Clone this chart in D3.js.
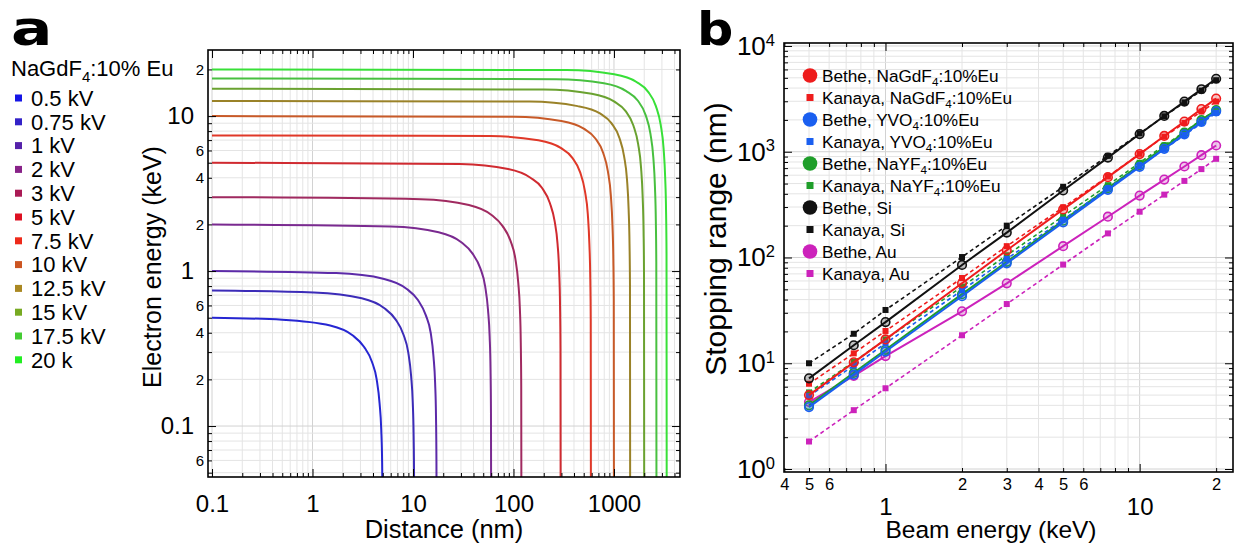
<!DOCTYPE html>
<html><head><meta charset="utf-8">
<script src="https://cdn.jsdelivr.net/npm/d3@7"></script>
<style>body{margin:0;background:#fff} svg{display:block}</style>
</head><body>
<svg id="c" width="1238" height="544"></svg>
<script>
// ---------------- DATA : panel a ----------------
const curveLabels = ["0.5 kV","0.75 kV","1 kV","2 kV","3 kV","5 kV","7.5 kV","10 kV","12.5 kV","15 kV","17.5 kV","20 k"];
const legendColors = ["#1515e6","#3322c8","#5522aa","#882288","#aa1a55","#dd1122","#ee2a1a","#cc5522","#aa8822","#77aa22","#44cc33","#22ee22"];
const curveColors  = ["#2626d2","#3c2cb8","#5c2aa8","#7a2a90","#a02a60","#d02a30","#e03828","#c85a28","#9a8228","#6aa230","#48c040","#38e038"];
// [distance (nm), electron energy (keV)]
const curve_0_5kV  = [[0.1,0.5],[0.5,0.485],[1.5,0.445],[2.5,0.385],[3.25,0.325],[3.9,0.26],[4.35,0.2],[4.65,0.14],[4.83,0.095],[4.93,0.058],[4.98,0.03],[5.0,0.02]];
const curve_0_75kV = [[0.1,0.75],[1.03,0.728],[3.09,0.668],[5.15,0.578],[6.7,0.488],[8.03,0.39],[8.96,0.3],[9.58,0.21],[9.94,0.143],[10.15,0.086],[10.25,0.045],[10.3,0.02]];
const curve_1kV    = [[0.1,1],[1.72,0.97],[5.16,0.89],[8.6,0.77],[11.2,0.65],[13.4,0.52],[15.0,0.40],[16.0,0.28],[16.6,0.19],[16.94,0.115],[17.11,0.06],[17.2,0.02]];
const curve_2kV    = [[0.1,2],[6,1.94],[18,1.78],[30,1.54],[39,1.30],[46.8,1.04],[52.2,0.80],[55.8,0.56],[57.9,0.38],[59.1,0.23],[59.7,0.12],[60,0.02]];
const curve_3kV    = [[0.1,3],[12,2.91],[36,2.67],[60,2.31],[78,1.95],[93.6,1.56],[104.4,1.20],[111.6,0.84],[115.8,0.57],[118.2,0.345],[119.4,0.18],[120,0.02]];
const curve_5kV    = [[0.1,5],[29.5,4.9],[88.5,4.55],[147.5,4.0],[191.8,3.45],[230.1,2.75],[256.7,2.1],[274.4,1.5],[284.7,1.0],[290.6,0.6],[293.5,0.315],[295,0.02]];
const curve_7_5kV  = [[0.1,7.5],[59,7.43],[177,6.98],[295,6.23],[383.5,5.4],[460,4.35],[513,3.3],[549,2.33],[569,1.5],[581,0.9],[587,0.49],[590,0.02]];
const curve_10kV   = [[0.1,10],[100,9.9],[300,9.3],[500,8.3],[650,7.2],[780,5.8],[870,4.4],[930,3.1],[965,2.0],[985,1.2],[995,0.65],[1000,0.02]];
const curve_12_5kV = [[0.1,12.5],[145,12.4],[435,11.6],[725,10.4],[942,9.0],[1131,7.25],[1261,5.5],[1348,3.9],[1399,2.5],[1428,1.5],[1443,0.81],[1450,0.02]];
const curve_15kV   = [[0.1,15],[200,14.85],[600,13.95],[1000,12.45],[1300,10.8],[1560,8.7],[1740,6.6],[1860,4.65],[1930,3.0],[1970,1.8],[1990,0.98],[2000,0.02]];
const curve_17_5kV = [[0.1,17.5],[265,17.3],[795,16.3],[1325,14.5],[1722,12.6],[2067,10.15],[2305,7.7],[2464,5.4],[2557,3.5],[2610,2.1],[2637,1.14],[2650,0.02]];
const curve_20kV   = [[0.1,20],[335,19.8],[1005,18.6],[1675,16.6],[2178,14.4],[2613,11.6],[2915,8.8],[3116,6.2],[3233,4.0],[3300,2.4],[3333,1.3],[3350,0.02]];
const curvesA = [curve_0_5kV,curve_0_75kV,curve_1kV,curve_2kV,curve_3kV,curve_5kV,curve_7_5kV,curve_10kV,curve_12_5kV,curve_15kV,curve_17_5kV,curve_20kV];
const xMajorA = [0.1,1,10,100,1000];
const yMajorA = [0.1,1,10];
const yMinorLabelA = [2,4,6];

// ---------------- DATA : panel b ----------------
const beamEnergy = [0.5,0.75,1,2,3,5,7.5,10,12.5,15,17.5,20];
const bethe_NaGdF4  = [5.0,10.2,16.8,57,117,285,575,950,1410,1930,2530,3180];
const kanaya_NaGdF4 = [6.4,12.4,20.2,64,128,298,583,955,1390,1870,2400,2980];
const bethe_YVO4    = [3.85,7.8,12.9,43,88,215,436,720,1065,1460,1910,2410];
const kanaya_YVO4   = [4.9,9.5,15.4,49,97,228,450,730,1060,1440,1860,2330];
const bethe_NaYF4   = [4.0,8.1,13.4,45,91,223,453,748,1105,1520,1990,2480];
const kanaya_NaYF4  = [5.3,10.3,16.8,53,105,246,483,787,1145,1545,1995,2510];
const bethe_Si      = [7.2,14.8,24.5,85,172,430,880,1470,2180,2980,3900,4900];
const kanaya_Si     = [10.0,19.0,31.9,101,200,466,914,1490,2165,2930,3785,4745];
const bethe_Au      = [4.3,7.6,11.7,31,57,128,243,385,545,725,928,1145];
const kanaya_Au     = [1.82,3.6,5.8,18.4,36.3,85.7,169,271,393,530,685,857];
const xMajorB = [1,10];
const xMinorLabelB = [0.4,0.5,0.6,2,3,4,5,6,20];
const yMajorB = [1,10,100,1000,10000];

const RED="#ee1c1c", BLUE="#1a5ff0", GREEN="#1f9e2a", BLACK="#111111", MAG="#cc22bb";
const legendB = [
  {m:"B", c:RED,   t:["Bethe, NaGdF",{s:"4"},":10%Eu"]},
  {m:"K", c:RED,   t:["Kanaya, NaGdF",{s:"4"},":10%Eu"]},
  {m:"B", c:BLUE,  t:["Bethe, YVO",{s:"4"},":10%Eu"]},
  {m:"K", c:BLUE,  t:["Kanaya, YVO",{s:"4"},":10%Eu"]},
  {m:"B", c:GREEN, t:["Bethe, NaYF",{s:"4"},":10%Eu"]},
  {m:"K", c:GREEN, t:["Kanaya, NaYF",{s:"4"},":10%Eu"]},
  {m:"B", c:BLACK, t:["Bethe, Si"]},
  {m:"K", c:BLACK, t:["Kanaya, Si"]},
  {m:"B", c:MAG,   t:["Bethe, Au"]},
  {m:"K", c:MAG,   t:["Kanaya, Au"]}
];
const seriesB = [
  {d:kanaya_Au,m:"K",c:MAG},{d:bethe_Au,m:"B",c:MAG},
  {d:kanaya_NaYF4,m:"K",c:GREEN},{d:bethe_NaYF4,m:"B",c:GREEN},
  {d:kanaya_YVO4,m:"K",c:BLUE},{d:bethe_YVO4,m:"B",c:BLUE},
  {d:kanaya_NaGdF4,m:"K",c:RED},{d:bethe_NaGdF4,m:"B",c:RED},
  {d:kanaya_Si,m:"K",c:BLACK},{d:bethe_Si,m:"B",c:BLACK}
];

// ---------------- DRAW ----------------
const FONT = '"Liberation Sans", Arial, Helvetica, sans-serif';
const svg = d3.select("#c").attr("font-family", FONT);

function logTicks(lo, hi){
  const out=[];
  for(let k=Math.floor(Math.log10(lo)); k<=Math.ceil(Math.log10(hi)); k++){
    for(let d=1; d<=9; d++){
      const v=+(d*Math.pow(10,k)).toPrecision(6);
      if(v>=lo*0.9999 && v<=hi*1.0001) out.push(v);
    }
  }
  return out;
}
function lead(v){ return Math.round(v/Math.pow(10,Math.floor(Math.log10(v)+1e-9))); }

function axis(g, fn, scale, tx, ty, values, size, pad, fmt, fs){
  const a = fn(scale).tickValues(values).tickSizeInner(-size).tickSizeOuter(0).tickPadding(pad).tickFormat(fmt);
  const s = g.append("g").attr("transform",`translate(${tx},${ty})`).call(a);
  s.select(".domain").remove();
  s.attr("font-family", FONT);
  s.selectAll("line").attr("stroke","#000").attr("stroke-width",1);
  s.selectAll("text").attr("font-size", fs+"px").attr("fill","#000");
  return s;
}
function grid(g, xs, ys, B, xv, yv){
  g.append("g").selectAll("line").data(xv).join("line")
    .attr("x1",d=>xs(d)).attr("x2",d=>xs(d)).attr("y1",B.top).attr("y2",B.bottom)
    .attr("stroke",d=>lead(d)===1?"#d2d2d2":"#e4e4e4").attr("stroke-width",1);
  g.append("g").selectAll("line").data(yv).join("line")
    .attr("y1",d=>ys(d)).attr("y2",d=>ys(d)).attr("x1",B.left).attr("x2",B.right)
    .attr("stroke",d=>lead(d)===1?"#d2d2d2":"#e4e4e4").attr("stroke-width",1);
}
function richText(sel, parts, fs){
  parts.forEach((p,i)=>{
    if(typeof p === "string"){
      const t = sel.append("tspan").text(p);
      if(i>0 && typeof parts[i-1] !== "string") t.attr("dy", (-0.28*fs)+"px");
    } else {
      sel.append("tspan").attr("font-size",(fs*0.68)+"px").attr("dy",(0.28*fs)+"px").text(p.s);
    }
  });
}

// ===== Panel a =====
const A = {left:208, right:680, top:50, bottom:477};
const xA = d3.scaleLog().domain([0.0912, 4540]).range([A.left, A.right]);
const yA = d3.scaleLog().domain([0.0469, 26.7]).range([A.bottom, A.top]);
const gA = svg.append("g");
const xTA = logTicks(...xA.domain()), yTA = logTicks(...yA.domain());
grid(gA, xA, yA, A, xTA, yTA);

svg.append("defs").append("clipPath").attr("id","clipA").append("rect")
  .attr("x",A.left).attr("y",A.top).attr("width",A.right-A.left).attr("height",A.bottom-A.top);
const lineA = d3.line().x(d=>xA(d[0])).y(d=>yA(d[1])).curve(d3.curveMonotoneX);
gA.append("g").attr("clip-path","url(#clipA)").selectAll("path").data(curvesA).join("path")
  .attr("d", lineA).attr("fill","none").attr("stroke",(d,i)=>curveColors[i]).attr("stroke-width",2);

const xMinA = xTA.filter(v=>lead(v)!==1), yMinA = yTA.filter(v=>lead(v)!==1);
axis(gA, d3.axisBottom, xA, 0, A.bottom, xMajorA, 8, 18, d=>String(d), 24);
axis(gA, d3.axisBottom, xA, 0, A.bottom, xMinA, 4, 3, ()=>"", 10);
axis(gA, d3.axisTop, xA, 0, A.top, xMajorA, 8, 3, ()=>"", 10);
axis(gA, d3.axisTop, xA, 0, A.top, xMinA, 4, 3, ()=>"", 10);
axis(gA, d3.axisLeft, yA, A.left, 0, yMajorA, 8, 14, d=>String(d), 24);
axis(gA, d3.axisLeft, yA, A.left, 0, yMinA, 4, 4, d=>yMinorLabelA.includes(lead(d))?String(lead(d)):"", 15);
axis(gA, d3.axisRight, yA, A.right, 0, yMajorA, 8, 3, ()=>"", 10);
axis(gA, d3.axisRight, yA, A.right, 0, yMinA, 4, 3, ()=>"", 10);
gA.append("rect").attr("x",A.left).attr("y",A.top).attr("width",A.right-A.left).attr("height",A.bottom-A.top)
  .attr("fill","none").attr("stroke","#000").attr("stroke-width",1.6);

gA.append("text").attr("x",444).attr("y",538).attr("text-anchor","middle")
  .attr("font-size","25.5px").text("Distance (nm)");
gA.append("text").attr("transform","translate(161,267) rotate(-90)").attr("text-anchor","middle")
  .attr("font-size","25px").text("Electron energy (keV)");

// legend a
const legA = gA.append("g");
richText(legA.append("text").attr("x",11).attr("y",76).attr("font-size","22px"), ["NaGdF",{s:"4"},":10% Eu"], 22);
curveLabels.forEach((lab,i)=>{
  const cy = 98 + i*23.8;
  legA.append("rect").attr("x",15).attr("y",cy-3.5).attr("width",7).attr("height",7).attr("fill",legendColors[i]);
  legA.append("text").attr("x",31).attr("y",cy+7.8).attr("font-size","22px").text(lab);
});
svg.append("text").attr("transform","translate(11,45) scale(1.28,1)").attr("font-family","'DejaVu Sans', sans-serif")
  .attr("font-size","48px").attr("font-weight","bold").text("a");

// ===== Panel b =====
const Bx = {left:784, right:1233, top:43, bottom:472};
const xB = d3.scaleLog().domain([0.3986, 23.3]).range([Bx.left, Bx.right]);
const yB = d3.scaleLog().domain([0.937, 10670]).range([Bx.bottom, Bx.top]);
const gB = svg.append("g");
const xTB = logTicks(...xB.domain()), yTB = logTicks(...yB.domain());
grid(gB, xB, yB, Bx, xTB, yTB);

const lineB = d3.line().x((d,i)=>xB(beamEnergy[i])).y(d=>yB(d));
seriesB.forEach(s=>{
  const g = gB.append("g");
  g.append("path").attr("d",lineB(s.d)).attr("fill","none").attr("stroke",s.c)
    .attr("stroke-width", s.m==="B"?2:1.6).attr("stroke-dasharray", s.m==="B"?null:"4,3");
  if(s.m==="B"){
    g.selectAll("circle").data(s.d).join("circle")
      .attr("cx",(d,i)=>xB(beamEnergy[i])).attr("cy",d=>yB(d)).attr("r",4.3)
      .attr("fill",s.c).attr("fill-opacity",0.25).attr("stroke",s.c).attr("stroke-width",1.6);
  } else {
    g.selectAll("rect").data(s.d).join("rect")
      .attr("x",(d,i)=>xB(beamEnergy[i])-3).attr("y",d=>yB(d)-3).attr("width",6).attr("height",6)
      .attr("fill",s.c);
  }
});

const xMinB = xTB.filter(v=>lead(v)!==1), yMinB = yTB.filter(v=>lead(v)!==1);
axis(gB, d3.axisBottom, xB, 0, Bx.bottom, xMajorB, 8, 26, d=>String(d), 24);
axis(gB, d3.axisBottom, xB, 0, Bx.bottom, xMinB, 4, 6, d=>xMinorLabelB.includes(d)?String(lead(d)):"", 16.5);
axis(gB, d3.axisTop, xB, 0, Bx.top, xMajorB, 8, 3, ()=>"", 10);
axis(gB, d3.axisTop, xB, 0, Bx.top, xMinB, 4, 3, ()=>"", 10);
const yAx = axis(gB, d3.axisLeft, yB, Bx.left, 0, yMajorB, 8, 9, ()=>"", 26);
yAx.selectAll(".tick text").each(function(d){
  const t = d3.select(this);
  t.text("10");
  t.append("tspan").attr("dy","-0.55em").attr("font-size","16.5px").text(Math.round(Math.log10(d)));
});
axis(gB, d3.axisLeft, yB, Bx.left, 0, yMinB, 4, 3, ()=>"", 10);
axis(gB, d3.axisRight, yB, Bx.right, 0, yMajorB, 8, 3, ()=>"", 10);
axis(gB, d3.axisRight, yB, Bx.right, 0, yMinB, 4, 3, ()=>"", 10);
gB.append("rect").attr("x",Bx.left).attr("y",Bx.top).attr("width",Bx.right-Bx.left).attr("height",Bx.bottom-Bx.top)
  .attr("fill","none").attr("stroke","#000").attr("stroke-width",1.6);

gB.append("text").attr("x",991).attr("y",538).attr("text-anchor","middle")
  .attr("font-size","24.5px").text("Beam energy (keV)");
gB.append("text").attr("transform","translate(726,239) rotate(-90)").attr("text-anchor","middle")
  .attr("font-size","30px").text("Stopping range (nm)");

// legend b
const legB = gB.append("g");
legendB.forEach((it,i)=>{
  const cy = 75.5 + i*22;
  if(it.m==="B") legB.append("circle").attr("cx",810).attr("cy",cy).attr("r",7.3).attr("fill",it.c);
  else legB.append("rect").attr("x",806.5).attr("y",cy-3.5).attr("width",7).attr("height",7).attr("fill",it.c);
  richText(legB.append("text").attr("x",822).attr("y",cy+6.1).attr("font-size","17.2px"), it.t, 17.2);
});
svg.append("text").attr("transform","translate(697,45) scale(1.08,1)").attr("font-family","'DejaVu Sans', sans-serif")
  .attr("font-size","47px").attr("font-weight","bold").text("b");
</script>
</body></html>
